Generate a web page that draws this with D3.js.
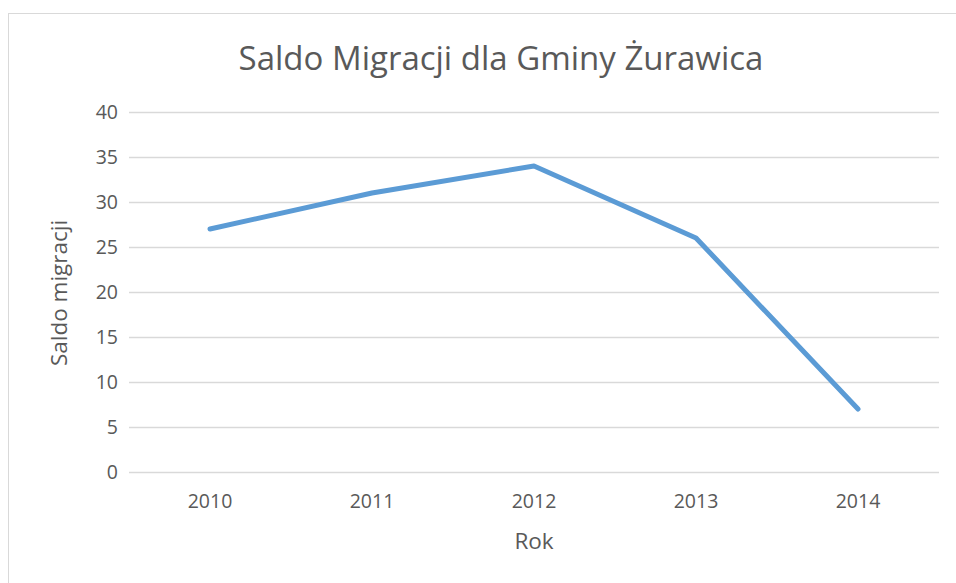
<!DOCTYPE html>
<html>
<head>
<meta charset="utf-8">
<script src="https://d3js.org/d3.v7.min.js"></script>
<style>
  body { margin: 0; background: #fff; }
  text { font-family: "Open Sans", "Noto Sans", sans-serif; fill: #595959; }
</style>
</head>
<body>
<svg></svg>
<script>
var width = 956;
var height = 583;

var years = ["2010", "2011", "2012", "2013", "2014"];
var saldo = [27, 31, 34, 26, 7];
var yTicks = [0, 5, 10, 15, 20, 25, 30, 35, 40];

var margin = { top: 112, right: 17, bottom: 111, left: 129 };

var svg = d3.select("svg")
              .attr("width", width)
              .attr("height", height);

// chart frame (runs off the right and bottom edge)
svg.append("rect")
    .attr("x", 8.5)
    .attr("y", 13.5)
    .attr("width", 1000)
    .attr("height", 1000)
    .attr("fill", "none")
    .attr("stroke", "#d9d9d9")
    .attr("stroke-width", 1);

var x = d3.scaleBand()
            .domain(years)
            .range([margin.left, width - margin.right]);

var y = d3.scaleLinear()
            .domain([0, 40])
            .range([height - margin.bottom, margin.top]);

// gridlines
svg.append("g")
    .selectAll("line")
    .data(yTicks)
    .enter()
    .append("line")
      .attr("x1", margin.left)
      .attr("x2", width - margin.right)
      .attr("y1", d => Math.round(y(d)) + 0.5)
      .attr("y2", d => Math.round(y(d)) + 0.5)
      .attr("stroke", "#d9d9d9")
      .attr("stroke-width", 1.3);

// y axis labels
var yAxis = svg.append("g")
    .attr("transform", "translate(" + (margin.left - 11) + ",0)")
    .call(d3.axisLeft(y).tickValues(yTicks).tickSize(0).tickPadding(0));
yAxis.select(".domain").remove();
yAxis.selectAll("text")
    .style("font-size", "19.5px")
    .attr("fill", "#595959");

// x axis labels
var xAxis = svg.append("g")
    .attr("transform", "translate(0,508)")
    .call(d3.axisBottom(x).tickSize(0).tickPadding(0));
xAxis.select(".domain").remove();
xAxis.selectAll("text")
    .attr("y", 0)
    .attr("dy", 0)
    .style("font-size", "19.5px")
    .attr("fill", "#595959");

// the line
var line = d3.line()
    .x((d, i) => x(years[i]) + x.bandwidth() / 2)
    .y(d => y(d));

svg.append("path")
    .datum(saldo)
    .attr("d", line)
    .attr("fill", "none")
    .attr("stroke", "#5b9bd5")
    .attr("stroke-width", 5)
    .attr("stroke-linecap", "round")
    .attr("stroke-linejoin", "round");

// title
svg.append("text")
    .attr("x", 501)
    .attr("y", 70)
    .attr("text-anchor", "middle")
    .style("font-size", "33px")
    .text("Saldo Migracji dla Gminy Żurawica");

// axis titles
svg.append("text")
    .attr("x", 534)
    .attr("y", 549)
    .attr("text-anchor", "middle")
    .style("font-size", "22.5px")
    .text("Rok");

svg.append("text")
    .attr("transform", "translate(67,293) rotate(-90)")
    .attr("text-anchor", "middle")
    .style("font-size", "22.5px")
    .text("Saldo migracji");
</script>
</body>
</html>
